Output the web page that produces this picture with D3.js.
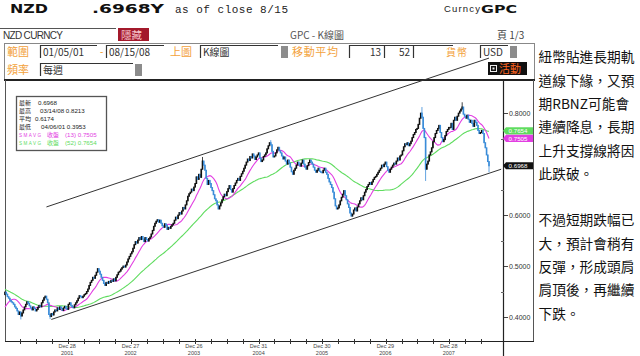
<!DOCTYPE html>
<html>
<head>
<meta charset="utf-8">
<script src="https://cdn.jsdelivr.net/npm/d3@7"></script>
<style>
  body { margin: 0; background: #fff; }
  svg { display: block; }
</style>
</head>
<body>
<div id="container"></div>
<script>
/*
    Weekly NZD closes (2000 only feeds the moving averages)
*/
var firstWeek = "2000-01-07";
var chartStart = "2001-01-05";
var chartEnd = "2008-08-15";

var close2000 = [0.515,0.510,0.505,0.498, 0.494,0.490,0.488,0.492, 0.495,0.498,0.494,0.490,0.492,
  0.488,0.484,0.480,0.476, 0.468,0.460,0.452,0.456, 0.462,0.470,0.474,0.471,0.468,
  0.466,0.462,0.458,0.454, 0.450,0.446,0.442,0.438, 0.432,0.425,0.418,0.412,0.410,
  0.405,0.400,0.396,0.399, 0.404,0.408,0.412,0.418, 0.422,0.428,0.434,0.440,0.444];
var close2001 = [0.449,0.445,0.440,0.437, 0.433,0.430,0.428,0.425, 0.420,0.417,0.412,0.405,0.410,
  0.402,0.408,0.414,0.420, 0.425,0.430,0.427,0.422, 0.418,0.414,0.420,0.417,0.412,
  0.415,0.419,0.423,0.420, 0.428,0.433,0.438,0.441,0.435, 0.428,0.405,0.401,0.407,
  0.404,0.410,0.414,0.412, 0.418,0.415,0.420,0.417,0.413, 0.418,0.421,0.417,0.415];
var close2002 = [0.425,0.428,0.423,0.420, 0.418,0.424,0.428,0.432, 0.437,0.442,0.440,0.438,0.441,
  0.444,0.446,0.450,0.455, 0.462,0.468,0.472,0.478,0.476, 0.482,0.488,0.495,0.490,
  0.484,0.478,0.472,0.466, 0.462,0.468,0.466,0.470,0.468, 0.472,0.470,0.475,0.471,
  0.478,0.483,0.488,0.490, 0.494,0.497,0.500,0.498,0.502, 0.508,0.514,0.519,0.524];
var close2003 = [0.528,0.535,0.542,0.548,0.545, 0.551,0.556,0.552,0.558, 0.553,0.548,0.556,0.552,
  0.549,0.554,0.557,0.563, 0.570,0.578,0.584,0.588,0.591, 0.586,0.590,0.584,0.579,
  0.576,0.583,0.580,0.572, 0.576,0.574,0.578,0.581,0.584, 0.590,0.596,0.593,0.600,
  0.605,0.602,0.608,0.615,0.612, 0.620,0.628,0.637,0.642, 0.645,0.651,0.648,0.655];
var close2004 = [0.662,0.675,0.670,0.680,0.674, 0.690,0.706,0.698,0.688, 0.672,0.660,0.668,0.662,
  0.654,0.648,0.640,0.632,0.628, 0.620,0.612,0.618,0.624, 0.630,0.636,0.641,0.638,
  0.646,0.652,0.658,0.650,0.645, 0.652,0.658,0.663,0.668, 0.672,0.668,0.676,0.681,
  0.686,0.692,0.698,0.704,0.710, 0.707,0.715,0.712,0.720, 0.716,0.709,0.714,0.718,0.722];
var close2005 = [0.712,0.705,0.708,0.715, 0.718,0.722,0.730,0.736, 0.742,0.738,0.725,0.714,
  0.716,0.722,0.728,0.733,0.726, 0.722,0.716,0.710,0.714, 0.706,0.700,0.708,0.702,
  0.694,0.685,0.680,0.688,0.692, 0.698,0.704,0.700,0.696, 0.702,0.708,0.700,0.694,0.690,
  0.697,0.703,0.708,0.704, 0.700,0.694,0.688,0.684, 0.688,0.692,0.686,0.684,0.683];
var close2006 = [0.688,0.692,0.684,0.680, 0.672,0.665,0.660,0.654, 0.645,0.632,0.618,0.612,0.614,
  0.620,0.628,0.635,0.641, 0.648,0.638,0.630,0.622, 0.615,0.604,0.598,0.602,0.610,
  0.614,0.608,0.616,0.622, 0.628,0.634,0.630,0.638, 0.645,0.650,0.656,0.660,0.664,
  0.660,0.665,0.670,0.674, 0.676,0.680,0.684,0.688, 0.692,0.698,0.695,0.700,0.704];
var close2007 = [0.695,0.688,0.684,0.690, 0.694,0.698,0.702,0.700, 0.706,0.712,0.708,0.716,0.718,
  0.726,0.734,0.740,0.738, 0.742,0.736,0.740,0.745, 0.752,0.758,0.762,0.768,0.770,
  0.778,0.790,0.800,0.792, 0.770,0.752,0.690,0.700,0.706, 0.718,0.724,0.732,0.744,
  0.752,0.760,0.766,0.770, 0.776,0.762,0.752,0.744,0.748, 0.756,0.764,0.768,0.772];
var close2008 = [0.772,0.780,0.768,0.786, 0.792,0.786,0.794,0.800,0.804, 0.808,0.812,0.798,0.794,
  0.790,0.796,0.788,0.782, 0.786,0.780,0.774,0.786,0.782, 0.776,0.766,0.760,0.762,
  0.766,0.760,0.742,0.732, 0.718,0.705,0.6968];

// weeks whose wick reaches beyond the body
var wickDates = ["2001-04-06", "2001-09-21", "2004-02-13", "2005-03-11", "2007-07-27", "2007-08-17", "2008-03-14", "2008-08-15"];
var wickHighs = [null, null, 0.714, 0.747, 0.812, null, 0.8213, null];
var wickLows = [0.3953, 0.396, null, null, null, 0.667, null, 0.684];

// channel lines drawn on the chart
var upperLine = [["2001-08-31", 0.616], ["2008-08-15", 0.908]];
var lowerLine = [["2001-09-28", 0.3953], ["2008-10-24", 0.690]];

var yTicks = [0.4, 0.5, 0.6, 0.7, 0.8];
var yLabels = [0.4, 0.5, 0.6, 0.8];   // 0.7000 sits under the last-price flag
var yMinor = [0.45, 0.55, 0.65, 0.75];
var xLabelDates = ["2001-12-28", "2002-12-27", "2003-12-26", "2004-12-31", "2005-12-30", "2006-12-29", "2007-12-28"];
var xLabelDays = ["Dec 28", "Dec 27", "Dec 26", "Dec 31", "Dec 30", "Dec 29", "Dec 28"];
var xLabelYears = ["2001", "2002", "2003", "2004", "2005", "2006", "2007"];

var statNames = ["最新", "最高", "平均", "最低"];
var statValues = ["0.6968", "03/14/08 0.8213", "0.6174", "04/06/01 0.3953"];
var maPeriods = [13, 52];
var maValues = [0.7505, 0.7654];
var lastPrice = 0.6968;

var noteLines = ["紐幣貼進長期軌", "道線下緣，又預", "期RBNZ可能會", "連續降息，長期", "上升支撐線將因", "此跌破。", "",
  "不過短期跌幅已", "大，預計會稍有", "反彈，形成頭肩", "肩頂後，再繼續", "下跌。"];

var ORANGE = "#f3a23c", MAGENTA = "#e23ee2", GREEN = "#5fdc5f", BLUE = "#3a8cd8";
var SANS = "Liberation Sans, Arial, sans-serif";
var CJK = "Noto Sans CJK TC, sans-serif";

var svg = d3.select("#container").append("svg")
    .attr("width", 640)
    .attr("height", 356);

function txt(g, x, y, s, size, fill, family, extra) {
    var t = g.append("text")
        .attr("x", x).attr("y", y)
        .attr("font-size", size)
        .attr("font-family", family || SANS)
        .attr("fill", fill || "#222")
        .text(s);
    if (extra) {
        Object.keys(extra).forEach(function (k) { t.attr(k, extra[k]); });
    }
    return t;
}

/*
    Header lines
*/
var head = svg.append("g");
txt(head, 10, 13, "NZD", 12, "#111", "DejaVu Sans", {"font-weight": "bold", textLength: 38, lengthAdjust: "spacingAndGlyphs"});
txt(head, 92, 13, ".6968Y", 12, "#111", "DejaVu Sans", {"font-weight": "bold", textLength: 72, lengthAdjust: "spacingAndGlyphs"});
txt(head, 175, 12.5, "as of close  8/15", 11, "#222", "Liberation Mono", {textLength: 113});
txt(head, 444, 12, "Curncy", 9.5, "#222", SANS, {textLength: 36});
txt(head, 481, 12.5, "GPC", 11, "#111", "DejaVu Sans", {"font-weight": "bold", textLength: 36, lengthAdjust: "spacingAndGlyphs"});

// second row
head.append("line").attr("x1", 0).attr("x2", 116).attr("y1", 28.5).attr("y2", 28.5).attr("stroke", "#555");
txt(head, 3, 38.5, "NZD CURNCY", 10, "#333", SANS, {textLength: 60});
head.append("rect").attr("x", 118).attr("y", 28).attr("width", 31).attr("height", 13).attr("fill", "#a3192b");
txt(head, 121, 38.5, "隱藏", 10.5, "#f6c4cc", CJK);
txt(head, 290, 39, "GPC - K線圖", 10, "#555", CJK);
txt(head, 497, 39, "頁 1/3", 10, "#444", CJK);

/*
    Control panel
*/
var panel = svg.append("g");
panel.append("rect").attr("x", 4.5).attr("y", 43.5).attr("width", 530).attr("height", 36)
    .attr("fill", "#fff").attr("stroke", "#888");

function field(x, yy, w, s, anchorRight) {
    panel.append("rect").attr("x", x).attr("y", yy).attr("width", w).attr("height", 13).attr("fill", "#fff");
    panel.append("path").attr("d", "M" + (x + 0.5) + "," + (yy + 13) + "V" + (yy + 0.5) + "H" + (x + w))
        .attr("fill", "none").attr("stroke", "#333").attr("stroke-width", 1.2);
    if (s) {
        if (anchorRight) {
            txt(panel, x + w - 3, yy + 10.5, s, 10, "#333", CJK, {"text-anchor": "end"});
        } else {
            txt(panel, x + 3, yy + 10.5, s, 10, "#333", CJK);
        }
    }
}
function grayBlock(x, yy) {
    panel.append("rect").attr("x", x).attr("y", yy + 1).attr("width", 7).attr("height", 12).attr("fill", "#8c8c8c");
}

txt(panel, 7, 56, "範圍", 11, ORANGE, CJK);
field(40, 45, 57, "01/05/01");
txt(panel, 100, 55, "-", 10, ORANGE);
field(106, 45, 58, "08/15/08");
txt(panel, 170, 56, "上圖", 11, ORANGE, CJK);
field(200, 45, 78, "K線圖");
grayBlock(281, 45);
txt(panel, 292, 56, "移動平均", 11, ORANGE, CJK, {textLength: 46});
field(349, 45, 35, "13", true);
field(384, 45, 29, "52", true);
field(413, 45, 40, "");
txt(panel, 446, 56, "貨幣", 10, ORANGE, CJK, {textLength: 21});
field(480, 45, 28, "USD");
grayBlock(510, 45);

txt(panel, 7, 74, "頻率", 11, ORANGE, CJK);
field(40, 63, 93, "每週");
grayBlock(135, 63);

panel.append("rect").attr("x", 488).attr("y", 62).attr("width", 39).attr("height", 13).attr("fill", "#111");
panel.append("rect").attr("x", 490.5).attr("y", 65.5).attr("width", 6).attr("height", 6)
    .attr("fill", "none").attr("stroke", "#eee");
panel.append("rect").attr("x", 492.5).attr("y", 67.5).attr("width", 2).attr("height", 2).attr("fill", "#eee");
txt(panel, 499, 73, "活動", 11, "#ff6420", CJK);

/*
    Chart frame and scales
*/
var parse = d3.utcParse("%Y-%m-%d");
var x = d3.scaleUtc()
    .domain([parse(chartStart), parse(chartEnd)])
    .range([5, 489]);
var y = d3.scaleLinear()
    .domain([0.355, 0.865])
    .range([340, 80]);

var frame = svg.append("g");
frame.append("line").attr("x1", 4).attr("x2", 535).attr("y1", 80).attr("y2", 80).attr("stroke", "#222").attr("stroke-width", 2);
frame.append("line").attr("x1", 5.5).attr("x2", 5.5).attr("y1", 80).attr("y2", 342).attr("stroke", "#555");
frame.append("line").attr("x1", 533.5).attr("x2", 533.5).attr("y1", 80).attr("y2", 342).attr("stroke", "#555");
frame.append("line").attr("x1", 5).attr("x2", 534).attr("y1", 341.5).attr("y2", 341.5).attr("stroke", "#222").attr("stroke-width", 1.2);
frame.append("line").attr("x1", 503.5).attr("x2", 503.5).attr("y1", 79).attr("y2", 356).attr("stroke", "#222").attr("stroke-width", 1.2);

// y axis on the right
var yAxis = svg.append("g");
yAxis.selectAll(".ymaj").data(yTicks).enter().append("line")
    .attr("x1", 504).attr("x2", 508)
    .attr("y1", function (d) { return Math.round(y(d)) + 0.5; })
    .attr("y2", function (d) { return Math.round(y(d)) + 0.5; })
    .attr("stroke", "#444");
yAxis.selectAll(".ymin").data(yMinor).enter().append("line")
    .attr("x1", 501).attr("x2", 504)
    .attr("y1", function (d) { return Math.round(y(d)) + 0.5; })
    .attr("y2", function (d) { return Math.round(y(d)) + 0.5; })
    .attr("stroke", "#666");
yAxis.selectAll("text").data(yLabels).enter().append("text")
    .attr("x", 509)
    .attr("y", function (d) { return y(d) + 2.5; })
    .attr("font-size", 7)
    .attr("font-family", SANS)
    .attr("fill", "#333")
    .text(d3.format(".4f"));

// x axis ticks every quarter
var xAxis = svg.append("g");
xAxis.selectAll("line").data(x.ticks(d3.utcMonth.every(3))).enter().append("line")
    .attr("x1", function (d) { return Math.round(x(d)) + 0.5; })
    .attr("x2", function (d) { return Math.round(x(d)) + 0.5; })
    .attr("y1", 339).attr("y2", 344)
    .attr("stroke", "#333");
xAxis.selectAll(".xd").data(xLabelDates).enter().append("text")
    .attr("x", function (d) { return x(parse(d)); })
    .attr("y", 348)
    .attr("text-anchor", "middle")
    .attr("font-size", 5.5)
    .attr("font-family", SANS)
    .attr("fill", "#444")
    .text(function (d, i) { return xLabelDays[i]; });
xAxis.selectAll(".xy").data(xLabelDates).enter().append("text")
    .attr("x", function (d) { return x(parse(d)); })
    .attr("y", 355)
    .attr("text-anchor", "middle")
    .attr("font-size", 5.5)
    .attr("font-family", SANS)
    .attr("fill", "#444")
    .text(function (d, i) { return xLabelYears[i]; });

/*
    Build the weekly series and moving averages
*/
var allCloses = [].concat(close2000, close2001, close2002, close2003, close2004, close2005, close2006, close2007, close2008);
var t0 = parse(firstWeek);
var weeks = allCloses.map(function (c, i) {
    return { date: d3.utcDay.offset(t0, 7 * i), close: c };
});
weeks.forEach(function (d, i) {
    d.open = i > 0 ? weeks[i - 1].close : d.close;
    d.ma13 = i >= 12 ? d3.mean(weeks.slice(i - 12, i + 1), function (w) { return w.close; }) : null;
    d.ma52 = i >= 51 ? d3.mean(weeks.slice(i - 51, i + 1), function (w) { return w.close; }) : null;
    var k = wickDates.indexOf(d3.utcFormat("%Y-%m-%d")(d.date));
    d.high = Math.max(d.open, d.close, k >= 0 && wickHighs[k] != null ? wickHighs[k] : 0);
    d.low = Math.min(d.open, d.close, k >= 0 && wickLows[k] != null ? wickLows[k] : 9);
});
var shown = weeks.filter(function (d) { return d.date >= parse(chartStart); });

var plot = svg.append("g");

// channel lines
[upperLine, lowerLine].forEach(function (ln) {
    plot.append("line")
        .attr("x1", x(parse(ln[0][0]))).attr("y1", y(ln[0][1]))
        .attr("x2", x(parse(ln[1][0]))).attr("y2", y(ln[1][1]))
        .attr("stroke", "#333").attr("stroke-width", 1);
});

// 52 and 13 week averages
plot.append("path").datum(shown)
    .attr("fill", "none").attr("stroke", GREEN).attr("stroke-width", 1.1)
    .attr("d", d3.line().x(function (d) { return x(d.date); }).y(function (d) { return y(d.ma52); }));
plot.append("path").datum(shown)
    .attr("fill", "none").attr("stroke", MAGENTA).attr("stroke-width", 1.1)
    .attr("d", d3.line().x(function (d) { return x(d.date); }).y(function (d) { return y(d.ma13); }));

// weekly candles
var candle = plot.selectAll(".candle").data(shown).enter().append("g");
candle.append("line")
    .attr("x1", function (d) { return x(d.date); })
    .attr("x2", function (d) { return x(d.date); })
    .attr("y1", function (d) { return y(d.high); })
    .attr("y2", function (d) { return y(d.low); })
    .attr("stroke", function (d) { return d.close < d.open ? BLUE : "#111"; })
    .attr("stroke-width", 0.8);
candle.append("rect")
    .attr("x", function (d) { return x(d.date) - 0.8; })
    .attr("width", 1.6)
    .attr("y", function (d) { return y(Math.max(d.open, d.close)) - 0.5; })
    .attr("height", function (d) { return Math.max(1.5, Math.abs(y(d.open) - y(d.close)) + 1); })
    .attr("fill", function (d) { return d.close < d.open ? BLUE : "#111"; });

// value flags on the axis
var flags = [[maValues[1], GREEN], [maValues[0], MAGENTA], [lastPrice, "#111"]];
flags.forEach(function (f) {
    var yc = y(f[0]);
    plot.append("path")
        .attr("d", "M503," + yc + "L506," + (yc - 3.6) + "H533V" + (yc + 3.6) + "H506Z")
        .attr("fill", f[1]);
    txt(plot, 518, yc + 2.3, d3.format(".4f")(f[0]), 6.2, "#fff", SANS, {"text-anchor": "middle"});
});

/*
    Legend box
*/
var leg = svg.append("g");
leg.append("rect").attr("x", 16.5).attr("y", 96.5).attr("width", 90).attr("height", 54)
    .attr("fill", "#fff").attr("stroke", "#555").attr("stroke-width", 1.3);
var statX = [38, 40, 35, 41];
statNames.forEach(function (s, i) {
    var by = [104.5, 113, 121, 129][i];
    txt(leg, 19, by, s, 6, "#222", CJK);
    txt(leg, statX[i], by, statValues[i], 6.2, "#222");
});
maPeriods.forEach(function (p, i) {
    var by = 137 + 8 * i;
    var col = i === 0 ? MAGENTA : GREEN;
    txt(leg, 19, by, "SMAVG", 4.6, col, SANS, {textLength: 22});
    txt(leg, 47, by, "收盤", 6, col, CJK);
    txt(leg, 65, by, "(" + p + ") " + d3.format(".4f")(maValues[i]), 6.2, col);
});

/*
    Commentary on the right
*/
var note = svg.append("g");
noteLines.forEach(function (s, i) {
    txt(note, 538.5, 62.3 + 23.3 * i, s, 13.7, "#111", CJK);
});
</script>
</body>
</html>
